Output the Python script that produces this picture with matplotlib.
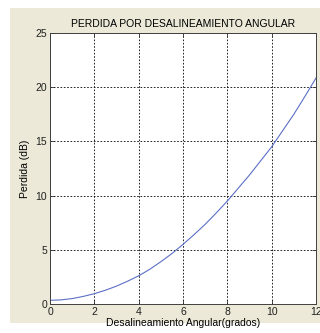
import matplotlib
matplotlib.use("Agg")
import matplotlib.pyplot as plt
from matplotlib.patches import Rectangle

# Pérdida por desalineamiento angular (dB) frente al ángulo (grados)
angulo = [0, 0.5, 1, 1.5, 2, 2.5, 3, 3.5, 4, 4.5, 5, 5.5, 6,
          6.5, 7, 7.5, 8, 8.5, 9, 9.5, 10, 10.5, 11, 11.5, 12]
perdida = [0.34, 0.38, 0.5, 0.7, 0.95, 1.27, 1.65, 2.1, 2.6, 3.2, 3.9, 4.65, 5.5,
           6.4, 7.35, 8.4, 9.5, 10.7, 11.9, 13.2, 14.5, 16.0, 17.5, 19.15, 20.85]

x_ticks = [0, 2, 4, 6, 8, 10, 12]
y_ticks = [0, 5, 10, 15, 20, 25]

W, H = 320, 333
plt.rcParams['font.family'] = ['Liberation Sans', 'DejaVu Sans']
fig = plt.figure(figsize=(W / 100, H / 100), dpi=100, facecolor='white')

# fondo gris de la ventana
fig.patches.append(Rectangle((10 / W, (H - 323) / H), (W - 10) / W, (323 - 8) / H,
                             transform=fig.transFigure, facecolor='#ece9d8',
                             edgecolor='none', zorder=-10))

ax = fig.add_axes([50 / W, (H - 304) / H, (316 - 50) / W, (304 - 33) / H])
ax.plot(angulo, perdida, color='#5b6fc6', linewidth=0.8)

ax.set_xlim(0, 12)
ax.set_ylim(0, 25)
ax.set_xticks(x_ticks)
ax.set_yticks(y_ticks)
ax.grid(True, color='black', linestyle=(0, (2, 2)), linewidth=0.6)
ax.tick_params(direction='in', length=3, width=0.6, labelsize=7.5,
               top=True, right=True, colors='#303030', labelcolor='#202020', pad=2)
for s in ax.spines.values():
    s.set_linewidth(0.7)
    s.set_color('#404040')

ax.set_title('PERDIDA POR DESALINEAMIENTO ANGULAR', fontsize=7.5, pad=4)
ax.set_xlabel('Desalineamiento Angular(grados)', fontsize=7.5, labelpad=1)
ax.set_ylabel('Perdida (dB)', fontsize=7.5, labelpad=4)

fig.savefig('out.png', dpi=100, facecolor='white')
